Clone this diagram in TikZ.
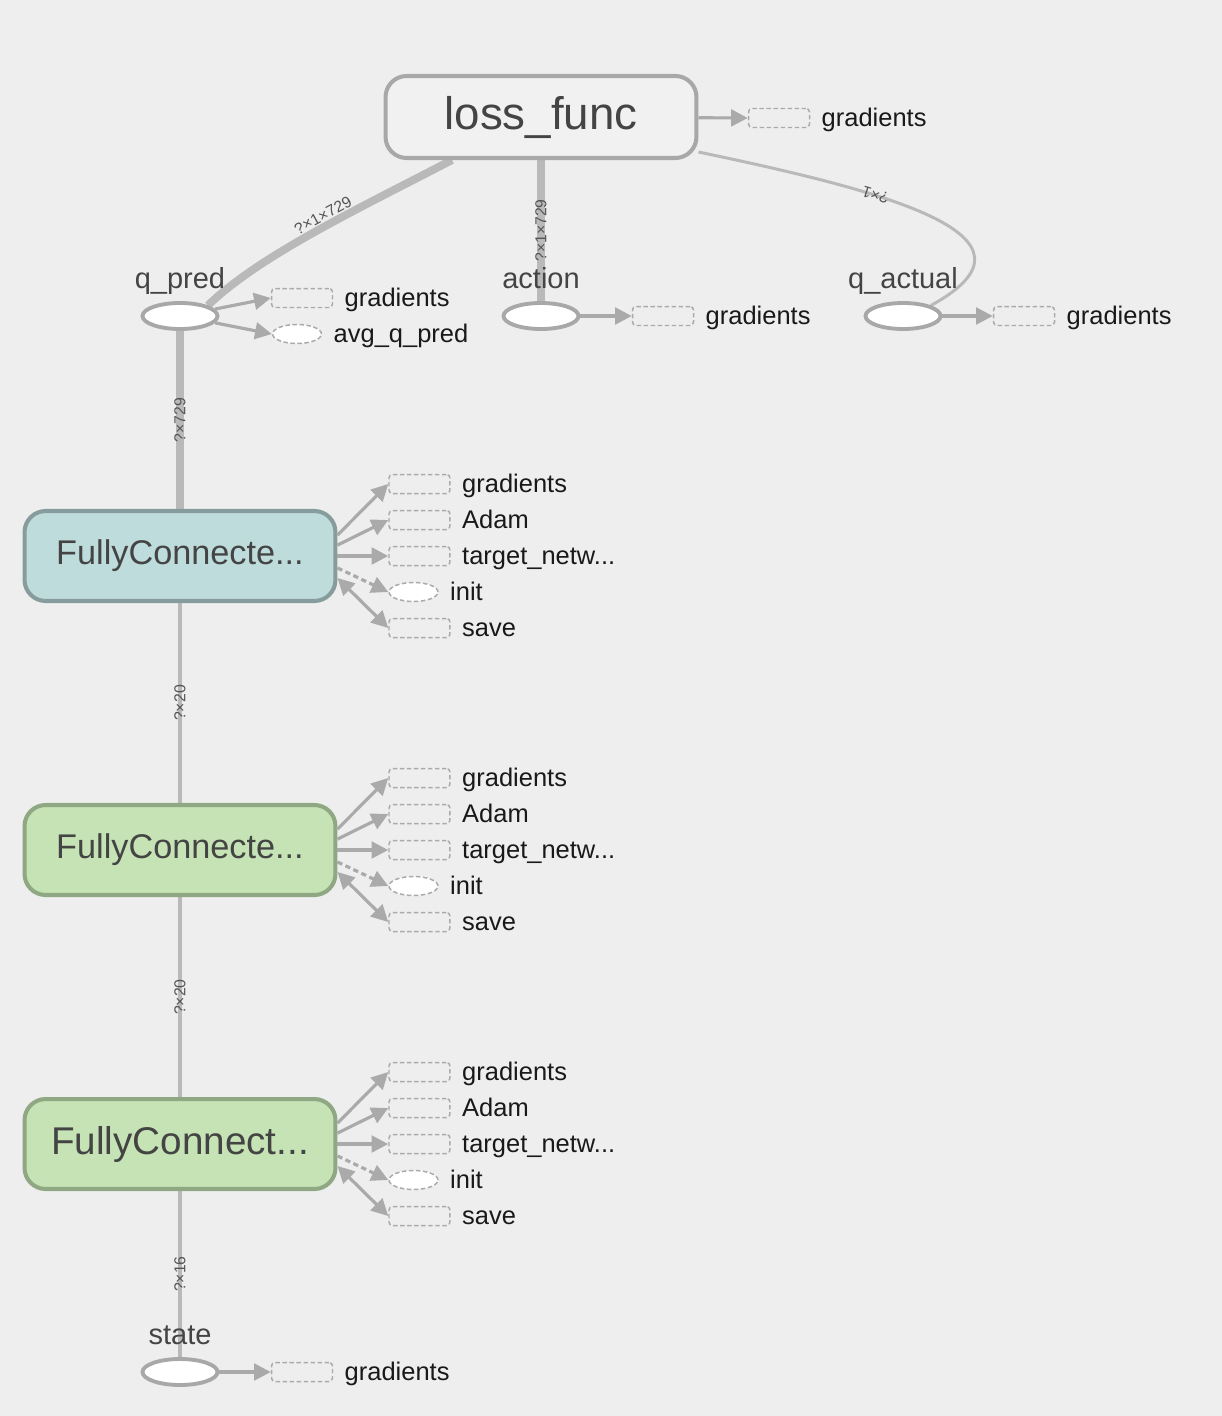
\documentclass[tikz,border=0pt]{standalone}
\usepackage{fontspec}
\setmainfont{Liberation Sans}
\usetikzlibrary{arrows.meta,positioning,calc,shapes.geometric,backgrounds}
\definecolor{bg}{HTML}{EEEEEE}
\definecolor{edgegray}{HTML}{B9B9B9}
\definecolor{tipgray}{HTML}{AAAAAA}
\definecolor{frame}{HTML}{A8A8A8}
\definecolor{namegray}{HTML}{444444}
\definecolor{shapegray}{HTML}{555555}
\definecolor{fcA}{HTML}{BEDCDC}
\definecolor{fcAline}{HTML}{879C9C}
\definecolor{fcB}{HTML}{C5E3B5}
\definecolor{fcBline}{HTML}{8FA883}
\tikzset{
  scopebox/.style={rectangle,rounded corners=12pt,draw=frame,fill=bg!85!white,line width=2.3pt,
    text=namegray,minimum width=6.22cm,minimum height=1.64cm},
  fcbox/.style={rectangle,rounded corners=12pt,line width=2.3pt,text=namegray,
    minimum width=6.22cm,minimum height=1.8cm,font=\fontsize{19.5}{23}\selectfont},
  ph/.style={ellipse,draw=frame,fill=white,line width=2.2pt,minimum width=1.5cm,minimum height=0.52cm,inner sep=0pt},
  nm/.style={text=namegray,font=\fontsize{16.5}{19}\selectfont,text height=12pt,text depth=3.5pt},
  aux/.style={rectangle,rounded corners=2pt,draw=tipgray,dash pattern=on 2.5pt off 1.5pt,line width=0.85pt,
    minimum width=1.22cm,minimum height=0.38cm,inner sep=0pt},
  auxop/.style={ellipse,draw=tipgray,fill=white,dash pattern=on 2.5pt off 1.5pt,line width=0.85pt,
    minimum width=0.98cm,minimum height=0.38cm,inner sep=0pt},
  satlbl/.style={text=black!90,font=\fontsize{14.5}{17}\selectfont,text height=13pt,text depth=3pt},
  elab/.style={text=shapegray,font=\fontsize{9}{10}\selectfont,inner sep=0.5pt},
  edge/.style={draw=edgegray},
  flow/.style={draw=tipgray,line width=1.8pt,-{Triangle[length=9.5pt,width=9.5pt]}},
  twoway/.style={draw=tipgray,line width=1.8pt,{Triangle[length=9.5pt,width=9.5pt]}-{Triangle[length=9.5pt,width=9.5pt]}},
  ctrl/.style={draw=tipgray,line width=1.8pt,dash pattern=on 3pt off 2pt,-{Triangle[length=9.5pt,width=9.5pt]}},
}

\begin{document}
\begin{tikzpicture}[x=0.02cm,y=-0.02cm,label distance=0pt]
\useasboundingbox (0,0) rectangle (1222,1416);
\begin{scope}[on background layer]
  \fill[bg] (0,0) rectangle (1222,1416);
\end{scope}

% main graph
\node[scopebox,font=\fontsize{26}{30}\selectfont] (lossf) at (541,117) {loss\_func};
\node[ph,label={[nm]above:q\_pred}] (qpred) at (180,316) {};
\node[ph,label={[nm]above:action}] (action) at (541,316) {};
\node[ph,label={[nm]above:q\_actual}] (qact) at (903,316) {};
\node[fcbox,fill=fcA,draw=fcAline] (fca) at (180,556) {FullyConnecte...};
\node[fcbox,fill=fcB,draw=fcBline] (fcb) at (180,850) {FullyConnecte...};
\node[fcbox,fill=fcB,draw=fcBline,font=\fontsize{22}{26}\selectfont] (fcc) at (180,1144) {FullyConnect...};
\node[ph,label={[nm]above:state}] (state) at (180,1372) {};

\begin{scope}[on background layer]
  \draw[edge,line width=4.5pt] ($(lossf.south)+(-89,0)$) .. controls (360,208) and (260,255) .. (qpred.north east)
    node[elab,pos=0.45,sloped,above=0pt] {?×1×729};
  \draw[edge,line width=4.5pt] (lossf) -- (action) node[elab,midway,rotate=90] {?×1×729};
  \draw[edge,line width=1.7pt] ($(lossf.east)+(0,35)$) .. controls (880,190) and (1060,235) .. (qact.north east)
    node[elab,pos=0.35,rotate=163] {?×1};
  \draw[edge,line width=4pt] (qpred) -- (fca) node[elab,midway,rotate=90] {?×729};
  \draw[edge,line width=2.3pt] (fca) -- (fcb) node[elab,midway,rotate=90] {?×20};
  \draw[edge,line width=2.3pt] (fcb) -- (fcc) node[elab,midway,rotate=90] {?×20};
  \draw[edge,line width=2.3pt] (fcc) -- (state) node[elab,midway,rotate=90] {?×16};
\end{scope}

% auxiliary nodes
\node[aux,label={[satlbl,label distance=3pt]right:gradients}] (lossf-grad) at (779,118) {};
\node[aux,label={[satlbl,label distance=3pt]right:gradients}] (qpred-grad) at (302,298) {};
\node[auxop,label={[satlbl,label distance=3pt]right:avg\_q\_pred}] (qpred-avg) at (297,334) {};
\node[aux,label={[satlbl,label distance=3pt]right:gradients}] (action-grad) at (663,316) {};
\node[aux,label={[satlbl,label distance=3pt]right:gradients}] (qact-grad) at (1024,316) {};
\node[aux,label={[satlbl,label distance=3pt]right:gradients}] (state-grad) at (302,1372) {};

\draw[flow] (lossf) -- (lossf-grad.west);
\draw[flow] (qpred) -- (qpred-grad.west);
\draw[flow] (qpred) -- (qpred-avg.west);
\draw[flow] (action) -- (action-grad.west);
\draw[flow] (qact) -- (qact-grad.west);
\draw[flow] (state) -- (state-grad.west);

\foreach \fc in {fca,fcb,fcc}{
  \node[aux,label={[satlbl,label distance=3pt]right:gradients}] (\fc-grad) at ($(\fc.east)+(82,-72)$) {};
  \node[aux,label={[satlbl,label distance=3pt]right:Adam}] (\fc-adam) at ($(\fc.east)+(82,-36)$) {};
  \node[aux,label={[satlbl,label distance=3pt]right:target\_netw...}] (\fc-targ) at ($(\fc.east)+(82,0)$) {};
  \node[auxop,label={[satlbl,label distance=3pt]right:init}] (\fc-init) at ($(\fc.east)+(76,36)$) {};
  \node[aux,label={[satlbl,label distance=3pt]right:save}] (\fc-save) at ($(\fc.east)+(82,72)$) {};
  \draw[flow] ([yshift=11.9pt]\fc.east) -- (\fc-grad.west);
  \draw[flow] ([yshift=6.2pt]\fc.east) -- (\fc-adam.west);
  \draw[flow] (\fc.east) -- (\fc-targ.west);
  \draw[ctrl] ([yshift=-6.8pt]\fc.east) -- (\fc-init.west);
  \draw[twoway] ([yshift=-12.5pt]\fc.east) -- (\fc-save.west);
}
\end{tikzpicture}
\end{document}
